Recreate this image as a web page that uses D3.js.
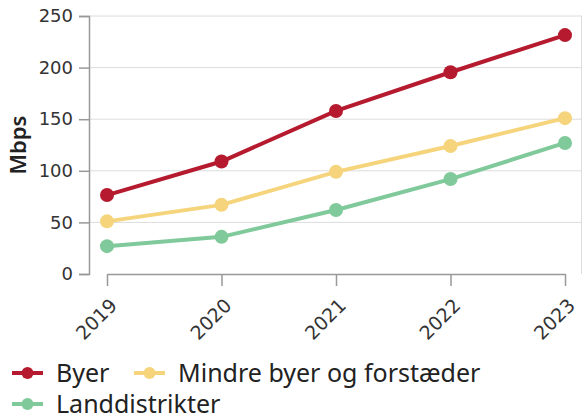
<!DOCTYPE html>
<html>
<head>
<meta charset="utf-8">
<script src="https://cdn.jsdelivr.net/npm/d3@7"></script>
<style>
  body { margin: 0; background: #fff; }
  .tick text { font-family: "DejaVu Sans", sans-serif; fill: #333; }
</style>
</head>
<body>
<div id="chart"></div>
<script>
const years = ['2019', '2020', '2021', '2022', '2023']
const seriesNames = ['Byer', 'Mindre byer og forstæder', 'Landdistrikter']
const byer = [76.5, 109, 158, 195.5, 231.5]
const mindre = [51, 67, 99, 124, 151]
const land = [27, 36, 62, 92, 127]
const yTicks = [0, 50, 100, 150, 200, 250]
const colors = ['#b51a2e', '#f5d47c', '#80c99b']

const width = 583
const height = 420
const margin = { top: 16, right: 1, bottom: 146, left: 89 }
const innerW = width - margin.left - margin.right
const innerH = height - margin.top - margin.bottom

const series = [byer, mindre, land].map((values, i) => ({
  name: seriesNames[i],
  color: colors[i],
  values: values.map((v, j) => ({ year: years[j], value: v }))
}))

const svg = d3.select('#chart')
  .append('svg')
  .attr('width', width)
  .attr('height', height)

const g = svg.append('g')
  .attr('transform', `translate(${margin.left},${margin.top})`)

const x = d3.scalePoint()
  .domain(years)
  .range([18, innerW - 17])

const y = d3.scaleLinear()
  .domain([0, 250])
  .range([innerH, 0])

// grid
g.selectAll('.grid')
  .data(yTicks.slice(1))
  .enter()
  .append('line')
  .attr('x1', 0)
  .attr('x2', innerW)
  .attr('y1', d => y(d))
  .attr('y2', d => y(d))
  .attr('stroke', '#dcdcdc')
  .attr('stroke-width', 1)

// right border
g.append('line')
  .attr('x1', innerW - 0.5).attr('x2', innerW - 0.5)
  .attr('y1', 0).attr('y2', innerH)
  .attr('stroke', '#dcdcdc')

const yAxis = g.append('g')
  .call(d3.axisLeft(y).tickValues(yTicks).tickSize(10).tickPadding(6))
yAxis.select('.domain').attr('stroke', '#999').attr('stroke-width', 1.5)
yAxis.selectAll('.tick line').attr('stroke', '#999').attr('stroke-width', 1.5)
yAxis.selectAll('.tick text').style('font-size', '18px')

const xAxis = g.append('g')
  .attr('transform', `translate(0,${innerH})`)
  .call(d3.axisBottom(x).tickSize(12).tickSizeOuter(0))
xAxis.select('.domain').attr('stroke', '#999').attr('stroke-width', 1.5)
xAxis.selectAll('.tick line').attr('stroke', '#999').attr('stroke-width', 1.5)
xAxis.selectAll('.tick text')
  .style('font-size', '19px')
  .attr('text-anchor', 'end')
  .attr('dy', '0.35em')
  .attr('transform', 'translate(6,28) rotate(-45)')
  .attr('y', 0)
  .attr('x', 0)

svg.append('text')
  .attr('transform', `translate(26,${margin.top + innerH / 2}) rotate(-90)`)
  .attr('text-anchor', 'middle')
  .style('font-family', '"Noto Sans", sans-serif')
  .style('font-size', '22px')
  .style('font-weight', '600')
  .attr('fill', '#222')
  .text('Mbps')

const line = d3.line()
  .x(d => x(d.year))
  .y(d => y(d.value))

const sg = g.selectAll('.series')
  .data(series)
  .enter()
  .append('g')

sg.append('path')
  .attr('d', d => line(d.values))
  .attr('fill', 'none')
  .attr('stroke', d => d.color)
  .attr('stroke-width', 4)

sg.selectAll('circle')
  .data(d => d.values.map(v => ({ ...v, color: d.color })))
  .enter()
  .append('circle')
  .attr('cx', d => x(d.year))
  .attr('cy', d => y(d.value))
  .attr('r', 7)
  .attr('fill', d => d.color)

// legend
const legendPos = [[12, 373], [134, 373], [12, 404]]
const lg = svg.selectAll('.legend')
  .data(series)
  .enter()
  .append('g')
  .attr('transform', (d, i) => `translate(${legendPos[i][0]},${legendPos[i][1]})`)

lg.append('line')
  .attr('x1', 0).attr('x2', 31)
  .attr('stroke', d => d.color)
  .attr('stroke-width', 4)
lg.append('circle')
  .attr('cx', 15.5)
  .attr('r', 6)
  .attr('fill', d => d.color)
lg.append('text')
  .attr('x', 44)
  .attr('dy', '0.35em')
  .style('font-family', '"Noto Sans", sans-serif')
  .style('font-size', '25px')
  .attr('fill', '#222')
  .text(d => d.name)
</script>
</body>
</html>
